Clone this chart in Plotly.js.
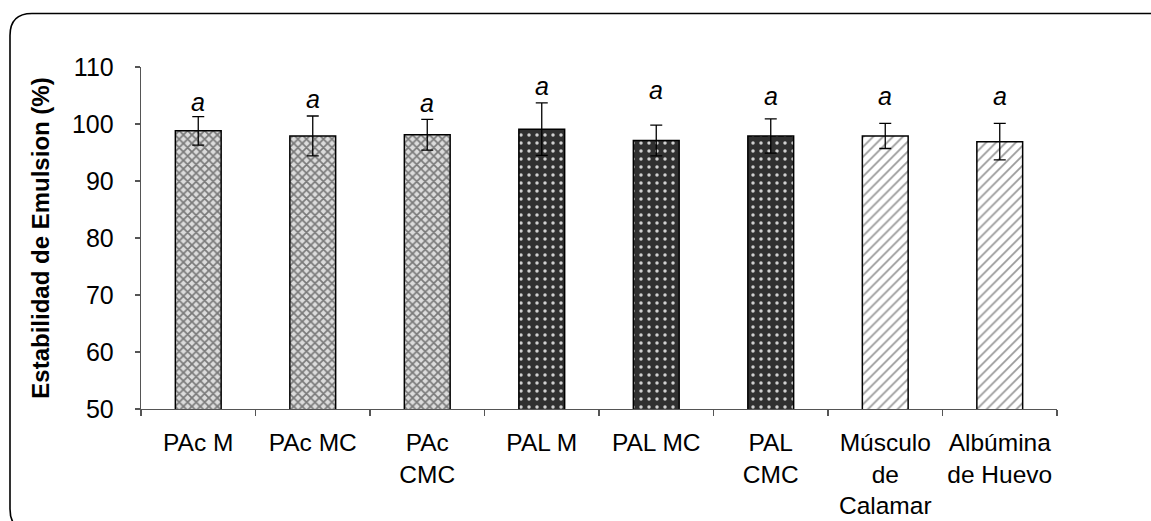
<!DOCTYPE html>
<html>
<head>
<meta charset="utf-8">
<script src="https://cdn.plot.ly/plotly-3.0.1.min.js"></script>
<style>
  html, body { margin: 0; padding: 0; background: #ffffff; }
  #chart { width: 1151px; height: 521px; }
</style>
</head>
<body>
<div id="chart"></div>
<script>
// Emulsion stability per protein sample
const categories = ["PAc M", "PAc MC", "PAc<br>CMC", "PAL M", "PAL MC", "PAL<br>CMC",
                    "Músculo<br>de<br>Calamar", "Albúmina<br>de Huevo"];
const stability = [98.8, 97.9, 98.1, 99.1, 97.1, 97.9, 97.9, 96.9];
const stdDev    = [2.5, 3.5, 2.7, 4.6, 2.7, 3.0, 2.2, 3.2];
const groupLetters = ["a", "a", "a", "a", "a", "a", "a", "a"];
const letterHeights = [103.8, 104.3, 103.6, 106.7, 105.9, 104.9, 105.0, 105.0];
const yTicks = [50, 60, 70, 80, 90, 100, 110];

// sample groups: acid-processed, alkaline-processed, reference proteins
const groupIndex = [0, 0, 0, 1, 1, 1, 2, 2];
const groupFills = [
  { bg: "#dcdcdc", fg: "#7a7a7a", shape: "x", size: 6, solidity: 0.5 },
  { bg: "#303030", fg: "#d0d0d0", shape: ".", size: 8, solidity: 0.15 },
  { bg: "#ffffff", fg: "#9a9a9a", shape: "/", size: 7, solidity: 0.25 }
];

const FONT = "'Liberation Sans', Arial, sans-serif";
const W = 1151, H = 521;
const M = { l: 141, r: 94, t: 67, b: 112 };
const pw = W - M.l - M.r, ph = H - M.t - M.b;
const px = x => (x - M.l) / pw;
const py = y => (H - M.b - y) / ph;

// rounded frame around the figure (runs off the right and bottom edges)
function roundedFrame(x0, y0, x1, y1, r) {
  return "M " + px(x0 + r) + "," + py(y0) +
         " L " + px(x1 - r) + "," + py(y0) +
         " Q " + px(x1) + "," + py(y0) + " " + px(x1) + "," + py(y0 + r) +
         " L " + px(x1) + "," + py(y1 - r) +
         " Q " + px(x1) + "," + py(y1) + " " + px(x1 - r) + "," + py(y1) +
         " L " + px(x0 + r) + "," + py(y1) +
         " Q " + px(x0) + "," + py(y1) + " " + px(x0) + "," + py(y1 - r) +
         " L " + px(x0) + "," + py(y0 + r) +
         " Q " + px(x0) + "," + py(y0) + " " + px(x0 + r) + "," + py(y0) + " Z";
}

const traces = groupFills.map((f, g) => {
  const idx = groupIndex.map((gi, i) => gi === g ? i : -1).filter(i => i >= 0);
  return {
    type: "bar",
    x: idx.map(i => categories[i]),
    y: idx.map(i => stability[i]),
    width: 0.4,
    marker: {
      color: f.bg,
      line: { color: "#000000", width: 1.5 },
      pattern: { shape: f.shape, fgcolor: f.fg, bgcolor: f.bg, size: f.size, solidity: f.solidity, fillmode: "replace" }
    },
    error_y: {
      type: "data",
      array: idx.map(i => stdDev[i]),
      visible: true,
      color: "#000000",
      thickness: 1.3,
      width: 6
    },
    hoverinfo: "x+y"
  };
});

const annotations = categories.map((c, i) => ({
  x: c, y: letterHeights[i], xref: "x", yref: "y",
  text: "<i>" + groupLetters[i] + "</i>",
  showarrow: false, yanchor: "middle",
  font: { family: FONT, size: 25, color: "#000" }
}));

const layout = {
  width: W, height: H,
  margin: M,
  paper_bgcolor: "#ffffff",
  plot_bgcolor: "#ffffff",
  showlegend: false,
  barmode: "overlay",
  font: { family: FONT, size: 25, color: "#000" },
  xaxis: {
    type: "category",
    categoryorder: "array",
    categoryarray: categories,
    range: [-0.5, categories.length - 0.5],
    showline: true, linecolor: "#555555", linewidth: 1.3,
    ticks: "outside", tickson: "boundaries", ticklen: 6, tickcolor: "#555555", tickwidth: 1.3,
    showgrid: false, zeroline: false,
    tickangle: 0,
    automargin: false,
    ticklabelstandoff: 11,
    tickfont: { family: FONT, size: 24.5, color: "#000" }
  },
  yaxis: {
    range: [50, 110],
    tickvals: yTicks,
    ticktext: yTicks.map(String),
    showline: true, linecolor: "#555555", linewidth: 1.3,
    ticks: "outside", ticklen: 5, tickcolor: "#555555", tickwidth: 1.3,
    showgrid: false, zeroline: false,
    automargin: false,
    ticklabelstandoff: 16,
    tickfont: { family: FONT, size: 25, color: "#000" },
    title: {
      text: "<b>Estabilidad de Emulsion (%)</b>",
      font: { family: FONT, size: 24, color: "#000" },
      standoff: 15
    }
  },
  annotations: annotations,
  shapes: [{
    type: "path", xref: "paper", yref: "paper",
    path: roundedFrame(10, 13.5, 1172, 531, 22),
    line: { color: "#000000", width: 1.6 },
    fillcolor: "rgba(0,0,0,0)",
    layer: "below"
  }]
};

Plotly.newPlot("chart", traces, layout, { displayModeBar: false, staticPlot: true });
</script>
</body>
</html>
